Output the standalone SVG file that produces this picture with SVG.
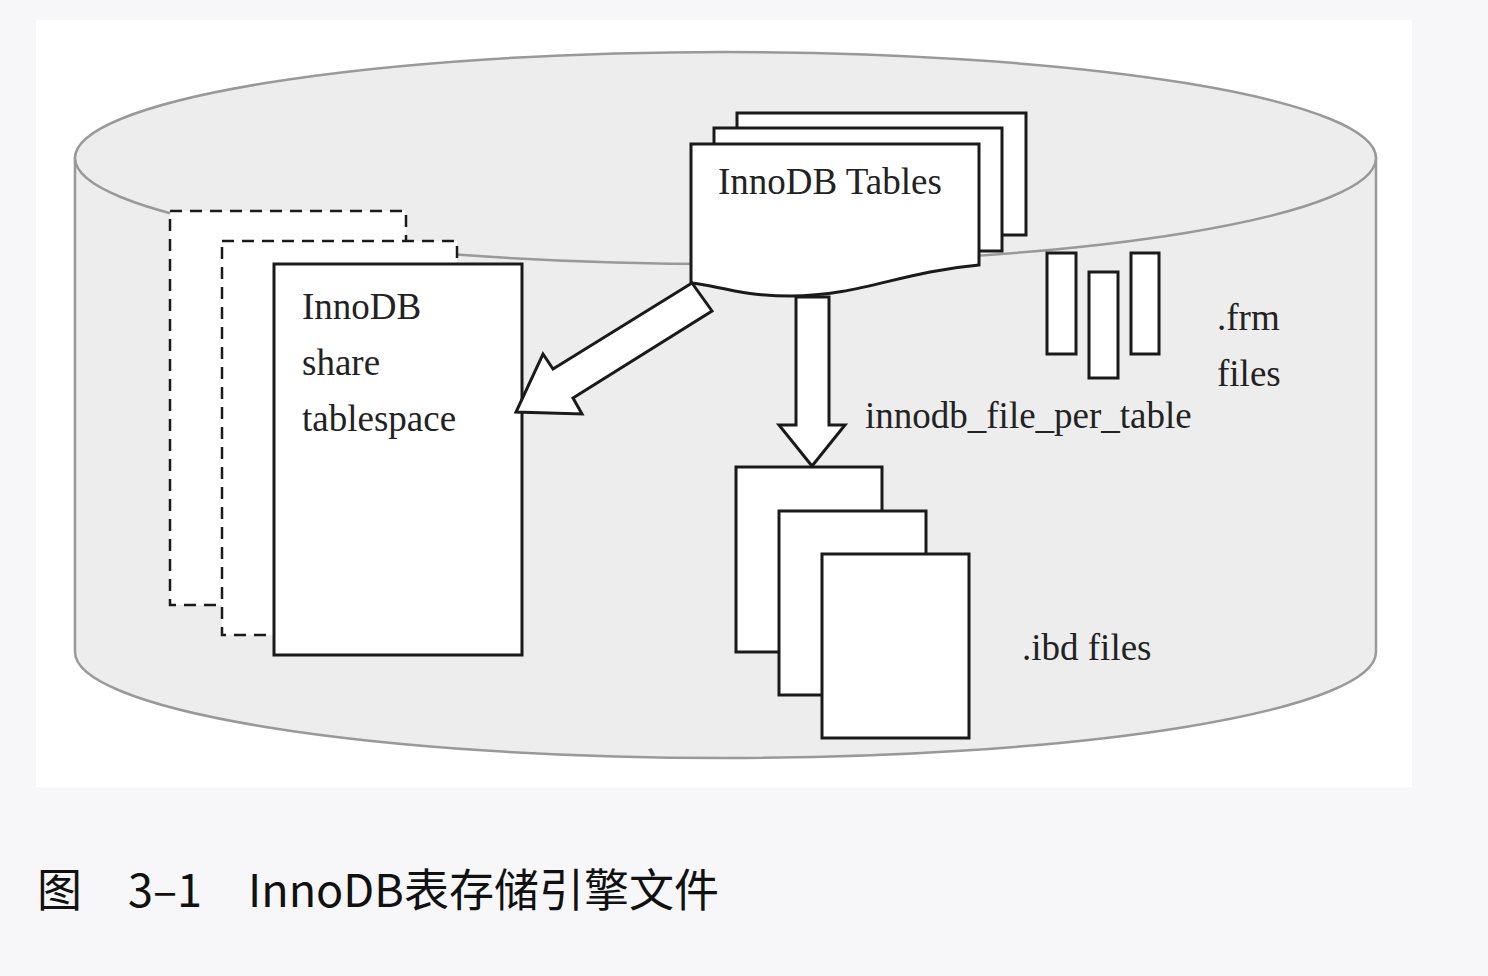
<svg xmlns="http://www.w3.org/2000/svg" width="1488" height="976" viewBox="0 0 1488 976">
<style>
.box{fill:#fff;stroke:#1a1a1a;stroke-width:3}
.dash{fill:#fff;stroke:#1a1a1a;stroke-width:2.5;stroke-dasharray:12 8}
.arrow{fill:#fff;stroke:#1a1a1a;stroke-width:3;stroke-linejoin:miter}
.t{font-family:"Liberation Serif","Times New Roman",serif;font-size:37px;fill:#222}
.cap{font-family:"Noto Sans CJK SC","Noto Sans",sans-serif;font-size:45px;fill:#111}
.cyl{fill:#ededed;stroke:#999;stroke-width:2.5}
</style>
<rect width="1488" height="976" fill="#f7f7f9"/>
<rect x="36" y="20" width="1376" height="767" fill="#fff"/>
<g id="cylinder">
<path class="cyl" d="M75,158 V652 A650.5,106 0 0 0 1376,652 V158 Z"/>
<ellipse class="cyl" cx="725.5" cy="158" rx="650.5" ry="106"/>
</g>
<g id="shared-tablespace">
<rect class="dash" x="170" y="211" width="236" height="394"/>
<rect class="dash" x="222" y="241" width="235" height="394"/>
<rect class="box" x="274" y="264" width="248" height="391"/>
<text class="t" x="302" y="319">InnoDB</text>
<text class="t" x="302" y="375">share</text>
<text class="t" x="302" y="431">tablespace</text>
</g>
<g id="innodb-tables">
<rect class="box" x="737" y="113" width="289" height="122"/>
<rect class="box" x="714" y="128" width="288" height="123"/>
<path class="box" d="M691,144 H979 V265 C900,272 860,296 790,296 C740,296 715,285 691,283 Z"/>
<text class="t" x="718" y="194">InnoDB Tables</text>
</g>
<g id="frm-files">
<rect class="box" x="1047" y="253" width="29" height="101"/>
<rect class="box" x="1089" y="272" width="29" height="106"/>
<rect class="box" x="1131" y="253" width="28" height="101"/>
<text class="t" x="1217" y="330">.frm</text>
<text class="t" x="1217" y="386">files</text>
</g>
<g id="ibd-files">
<rect class="box" x="736" y="467" width="146" height="185"/>
<rect class="box" x="779" y="511" width="147" height="184"/>
<rect class="box" x="822" y="554" width="147" height="184"/>
<text class="t" x="1022" y="660">.ibd files</text>
</g>
<g id="connectors">
<polygon class="arrow" points="692,283 712,311 573,398 582,414 516,412 543,354 553,369"/>
<polygon class="arrow" points="796,297 829,297 829,425 845,425 812,466 779,425 796,425"/>
<text class="t" x="865" y="428">innodb_file_per_table</text>
</g>
<g id="caption">
<text class="cap" x="37" y="907">图</text>
<text class="cap" x="128" y="907">3–1</text>
<text class="cap" x="248" y="907">InnoDB表存储引擎文件</text>
</g>
</svg>
